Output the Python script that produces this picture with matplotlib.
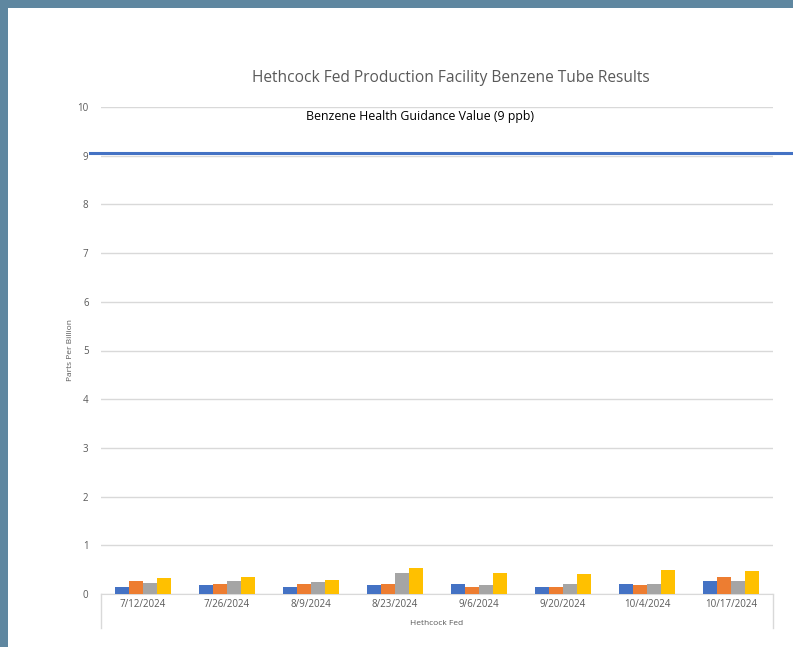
import numpy as np
import matplotlib
matplotlib.use("Agg")
import matplotlib.pyplot as plt
from matplotlib.patches import Rectangle
from matplotlib.transforms import blended_transform_factory

# data
dates = ["7/12/2024", "7/26/2024", "8/9/2024", "8/23/2024",
         "9/6/2024", "9/20/2024", "10/4/2024", "10/17/2024"]
tube1 = [0.15, 0.185, 0.15, 0.185, 0.21, 0.15, 0.21, 0.27]
tube2 = [0.27, 0.21, 0.21, 0.21, 0.15, 0.15, 0.18, 0.34]
tube3 = [0.23, 0.27, 0.24, 0.44, 0.18, 0.21, 0.21, 0.27]
tube4 = [0.32, 0.355, 0.29, 0.53, 0.44, 0.415, 0.50, 0.47]
guidance = 9.05

plt.rcParams['font.family'] = ['Open Sans', 'DejaVu Sans']

W, H = 793, 647
fig = plt.figure(figsize=(W / 100, H / 100), dpi=100)
fig.patch.set_facecolor("#5F87A0")
# white panel inside the blue-gray frame
fig.add_artist(Rectangle((8 / W, 0), 1, 1 - 8 / H, transform=fig.transFigure,
                         facecolor="white", edgecolor="none", zorder=-10))

ax = fig.add_axes([101 / W, 1 - 594 / H, (773 - 101) / W, (594 - 107) / H])
ax.set_facecolor("none")

x = np.arange(len(dates))
bw = 0.165
colors = ["#4472C4", "#ED7D31", "#A5A5A5", "#FFC000"]
for i, (vals, c) in enumerate(zip([tube1, tube2, tube3, tube4], colors)):
    ax.bar(x + (i - 1.5) * bw, vals, bw, color=c, zorder=3)

ax.set_xlim(-0.5, len(dates) - 0.5)
ax.set_ylim(0, 10)
ax.set_yticks(range(0, 11))
ax.grid(axis="y", color="#D9D9D9", linewidth=1)
ax.set_axisbelow(True)
for s in ["top", "right", "left"]:
    ax.spines[s].set_visible(False)
ax.spines["bottom"].set_color("#D9D9D9")
ax.tick_params(axis="both", length=0, labelsize=7, labelcolor="#595959")
ax.tick_params(axis="y", pad=9)
ax.set_xticks(x)
ax.set_xticklabels(dates)

# category box lines below the axis
for xa in [0, 1]:
    ax.plot([xa, xa], [0, -34 / 487], transform=ax.transAxes, color="#D9D9D9",
            linewidth=1, clip_on=False)

# guidance line extends past the plot area
tr = blended_transform_factory(ax.transAxes, ax.transData)
ax.plot([(90 - 101) / 672, (793 - 101) / 672], [guidance, guidance], transform=tr,
        color="#4472C4", linewidth=2.2, clip_on=False, zorder=4)
ax.text(3.3, 9.8, "Benzene Health Guidance Value (9 ppb)", ha="center", va="center",
        fontsize=8.9, color="black")

ax.set_ylabel("Parts Per Billion", fontsize=6, color="#595959", labelpad=2)
ax.set_xlabel("Hethcock Fed", fontsize=6, color="#595959", labelpad=7)
fig.text(451 / W, 1 - 78 / H, "Hethcock Fed Production Facility Benzene Tube Results",
         ha="center", va="center", fontsize=11.2, color="#595959")

fig.savefig("out.png", dpi=100, facecolor=fig.get_facecolor())
